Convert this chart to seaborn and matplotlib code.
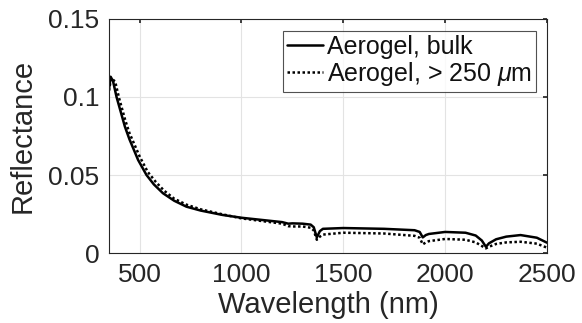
import numpy as np
import pandas as pd
import matplotlib
matplotlib.use('Agg')
import matplotlib.pyplot as plt
import seaborn as sns

# ── Data ─────────────────────────────────────────────────────────────────────
wl_bulk = [350, 358, 370, 387, 400, 428, 450, 493, 534, 570, 615, 670, 730, 800,
           907, 1000, 1100, 1200, 1230, 1250, 1300, 1340, 1355, 1370, 1385, 1400,
           1500, 1700, 1850, 1875, 1890, 1905, 1920, 2000, 2100, 2150, 2180, 2200,
           2215, 2250, 2300, 2370, 2450, 2500]
r_bulk = [0.105, 0.113, 0.110, 0.100, 0.094, 0.081, 0.073, 0.0596, 0.050, 0.044,
          0.0383, 0.0335, 0.0297, 0.0272, 0.0244, 0.0226, 0.0212, 0.0198, 0.0188,
          0.0190, 0.0188, 0.0182, 0.0165, 0.0100, 0.0140, 0.0155, 0.0160, 0.0155,
          0.0146, 0.0135, 0.0100, 0.0115, 0.0122, 0.0135, 0.0130, 0.0112, 0.0080,
          0.0040, 0.0062, 0.0088, 0.0105, 0.0115, 0.0098, 0.0066]

wl_fine = [350, 360, 380, 400, 430, 450, 500, 540, 580, 620, 670, 730, 800, 900,
           1000, 1100, 1200, 1230, 1250, 1300, 1340, 1355, 1370, 1385, 1400, 1500,
           1700, 1850, 1875, 1890, 1905, 1920, 2000, 2100, 2150, 2180, 2200, 2215,
           2250, 2300, 2370, 2450, 2500]
r_fine = [0.104, 0.112, 0.110, 0.099, 0.085, 0.077, 0.062, 0.052, 0.0455, 0.040,
          0.0348, 0.031, 0.028, 0.025, 0.0222, 0.0205, 0.0188, 0.0172, 0.0170,
          0.0170, 0.0162, 0.0145, 0.0085, 0.0105, 0.0118, 0.0130, 0.0125, 0.0110,
          0.0098, 0.0055, 0.0068, 0.0076, 0.0090, 0.0085, 0.0068, 0.0045, 0.0030,
          0.0040, 0.0058, 0.0068, 0.0072, 0.0060, 0.0034]

labels = ['Aerogel, bulk', r'Aerogel, > 250 $\mu$m']

df = pd.concat([
    pd.DataFrame({'wl': wl_bulk, 'R': r_bulk, 'sample': labels[0]}),
    pd.DataFrame({'wl': wl_fine, 'R': r_fine, 'sample': labels[1]}),
])

# ── Plot ─────────────────────────────────────────────────────────────────────
sns.set_theme(style='whitegrid')
plt.rcParams['font.family'] = ['Liberation Sans', 'DejaVu Sans']
plt.rcParams['mathtext.fontset'] = 'custom'
plt.rcParams['mathtext.it'] = 'Liberation Sans:italic'
plt.rcParams['mathtext.rm'] = 'Liberation Sans'
text_c = '#262626'

fig = plt.figure(figsize=(5.82, 3.23), dpi=100)
ax = fig.add_axes([0.1873, 0.2167, 0.7526, 0.7245])

sns.lineplot(data=df, x='wl', y='R', style='sample', style_order=labels,
             dashes={labels[0]: '', labels[1]: (1, 1)}, color='black',
             linewidth=1.8, ax=ax, sort=False)

ax.set_xlim(350, 2500)
ax.set_ylim(0, 0.15)
ax.set_xticks([500, 1000, 1500, 2000, 2500])
ax.set_yticks([0, 0.05, 0.1, 0.15])
ax.set_yticklabels(['0', '0.05', '0.1', '0.15'])
ax.set_xlabel('Wavelength (nm)', fontsize=21, color=text_c, labelpad=3)
ax.set_ylabel('Reflectance', fontsize=21, color=text_c, labelpad=8)
ax.tick_params(labelsize=19, colors=text_c, direction='in', length=3,
               top=True, right=True, pad=7)
ax.grid(True, color='#e3e3e3', linewidth=0.8)
for s in ax.spines.values():
    s.set_color('#262626'); s.set_linewidth(0.8)

leg = ax.legend(loc='upper right', bbox_to_anchor=(0.975, 0.949), fontsize=18,
                frameon=True, fancybox=False, handlelength=1.45, handletextpad=0.15,
                borderpad=0.15, labelspacing=0.05, borderaxespad=0)
leg.get_frame().set_edgecolor('#262626')
leg.get_frame().set_linewidth(0.8)
for t in leg.get_texts():
    t.set_color('#111111')

fig.savefig('out.png', dpi=100)
